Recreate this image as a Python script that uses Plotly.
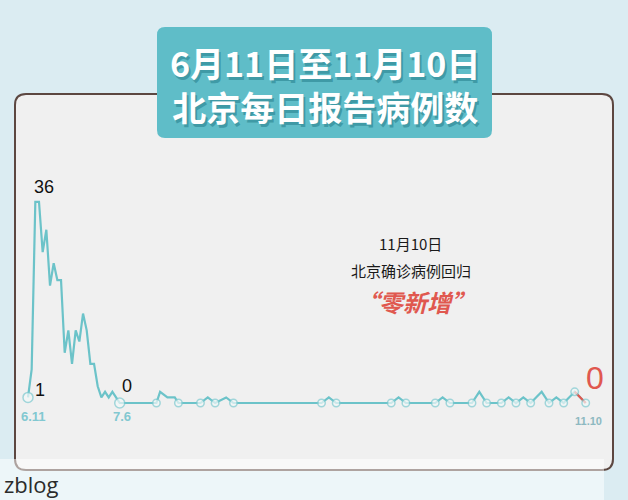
import plotly.graph_objects as go

# ---------------- data ----------------
# day offset since 6月11日, and reported cases at the line's vertices
key_days = [0, 1, 2, 3, 4, 5, 6, 7, 8, 9, 10, 11, 12, 13, 14, 15, 16, 17, 18, 19,
            20, 21, 22, 23, 24, 25,
            35, 36, 38, 40, 41,
            47, 49, 51, 54, 56,
            80, 82, 84,
            99, 101, 103,
            111, 113, 115,
            121, 123, 125,
            129, 131, 133, 135, 137, 140, 142, 144, 146, 149, 152]
cases = [1, 6, 36, 36, 27, 31, 21, 25, 22, 22, 9, 13, 7, 13, 11, 16, 13, 7, 7, 3,
         1, 2, 1, 2, 1, 0,
         0, 2, 1, 1, 0,
         0, 1, 0, 1, 0,
         0, 1, 0,
         0, 1, 0,
         0, 1, 0,
         0, 2, 0,
         0, 1, 0, 1, 0, 2, 0, 1, 0, 2, 0]
circle_days = [0, 25, 35, 41, 47, 51, 56, 80, 84, 99, 103, 111, 115, 121, 125,
               129, 133, 137, 142, 146, 149, 152]
red_days = [149, 152]

date_label_days = [0, 25, 152]
date_labels = ["6.11", "7.6", "11.10"]

title_lines = ["6月11日至11月10日", "北京每日报告病例数"]
note_lines = ["11月10日", "北京确诊病例回归"]
note_big = "“零新增”"

# ---------------- helpers ----------------
W, H = 628, 500
lookup = dict(zip(key_days, cases))


def px(x):
    return x / W


def py(y):
    return 1 - y / H


def rounded_rect(x0, y0, x1, y1, r):
    return (f"M {px(x0 + r)} {py(y0)} L {px(x1 - r)} {py(y0)} "
            f"Q {px(x1)} {py(y0)} {px(x1)} {py(y0 + r)} "
            f"L {px(x1)} {py(y1 - r)} Q {px(x1)} {py(y1)} {px(x1 - r)} {py(y1)} "
            f"L {px(x0 + r)} {py(y1)} Q {px(x0)} {py(y1)} {px(x0)} {py(y1 - r)} "
            f"L {px(x0)} {py(y0 + r)} Q {px(x0)} {py(y0)} {px(x0 + r)} {py(y0)} Z")


LINE = "#6cc3c9"
RED = "#e0584f"
CJK = "Noto Sans CJK SC"

fig = go.Figure()

fig.add_trace(go.Scatter(
    x=key_days, y=cases, mode="lines",
    line=dict(color=LINE, width=2.2), hoverinfo="skip", showlegend=False))

fig.add_trace(go.Scatter(
    x=red_days, y=[lookup[d] for d in red_days], mode="lines",
    line=dict(color=RED, width=2.2), hoverinfo="skip", showlegend=False))

fig.add_trace(go.Scatter(
    x=circle_days, y=[lookup[d] for d in circle_days], mode="markers",
    marker=dict(size=[10 if d in (0, 25) else 7.5 for d in circle_days],
                color="#f3f8f8", line=dict(color="#7fcbd1", width=1.5)),
    hoverinfo="skip", showlegend=False))

shapes = [
    dict(type="path", xref="paper", yref="paper", layer="below",
         path=rounded_rect(15, 94, 613, 470, 11),
         fillcolor="#f0f0f0", line=dict(color="#5c4741", width=2)),
    dict(type="path", xref="paper", yref="paper", layer="below",
         path=rounded_rect(157, 27, 492, 138, 8),
         fillcolor="#5fbdc8", line=dict(width=0)),
    dict(type="rect", xref="paper", yref="paper", layer="above",
         x0=0, x1=px(604), y0=0, y1=py(459),
         fillcolor="rgba(255,255,255,0.5)", line=dict(width=0)),
]


def paper_text(x, y, text, font, xanchor="center"):
    return dict(xref="paper", yref="paper", x=px(x), y=py(y), showarrow=False,
                text=text, xanchor=xanchor, yanchor="middle", align="center",
                font=font)


annotations = [
    paper_text(325, 84, "<br>".join(title_lines),
               dict(family=CJK, size=34, color="white", weight="bold",
                    shadow="2px 3px 0px #3f9aa6")),
    paper_text(410, 243, note_lines[0], dict(family=CJK, size=15, color="#1a1a1a")),
    paper_text(411, 270, note_lines[1], dict(family=CJK, size=15, color="#1a1a1a")),
    paper_text(415, 301, note_big, dict(family=CJK, size=24, color=RED,
                                        weight="bold", style="italic")),
    paper_text(2, 484, "zblog", dict(family="Open Sans", size=22, color="#2b2b2b"),
               xanchor="left"),
    # value labels
    dict(x=2.5, y=36, text="36", showarrow=False, xshift=7, yshift=15,
         font=dict(family="Liberation Sans", size=18, color="#111")),
    dict(x=0, y=1, text="1", showarrow=False, xshift=12, yshift=7,
         font=dict(family="Liberation Sans", size=18, color="#111")),
    dict(x=25, y=0, text="0", showarrow=False, xshift=7, yshift=17,
         font=dict(family="Liberation Sans", size=18, color="#111")),
    dict(x=152, y=0, text="0", showarrow=False, xshift=9, yshift=25,
         font=dict(family="Liberation Sans", size=32, color=RED)),
]

label_style = {
    "6.11": dict(xshift=5, yshift=-13, size=13, color="#82c8d1"),
    "7.6": dict(xshift=2, yshift=-13, size=13, color="#82c8d1"),
    "11.10": dict(xshift=3, yshift=-18, size=11, color="#8db9c1"),
}
for d, t in zip(date_label_days, date_labels):
    s = label_style[t]
    annotations.append(dict(x=d, y=0, text=t, showarrow=False,
                            xshift=s["xshift"], yshift=s["yshift"],
                            font=dict(family="Liberation Sans", size=s["size"],
                                      color=s["color"], weight="bold")))

fig.update_layout(
    width=W, height=H,
    margin=dict(l=0, r=0, t=0, b=0),
    paper_bgcolor="#dbecf2", plot_bgcolor="rgba(0,0,0,0)",
    xaxis=dict(range=[-7.63, 163.53], visible=False, fixedrange=True),
    yaxis=dict(range=[-17.35, 72.1], visible=False, fixedrange=True),
    shapes=shapes, annotations=annotations,
)

fig.write_html("out.html", config={"displayModeBar": False},
               post_script="document.body.style.margin='0';"
                           "document.body.style.overflow='hidden';")
